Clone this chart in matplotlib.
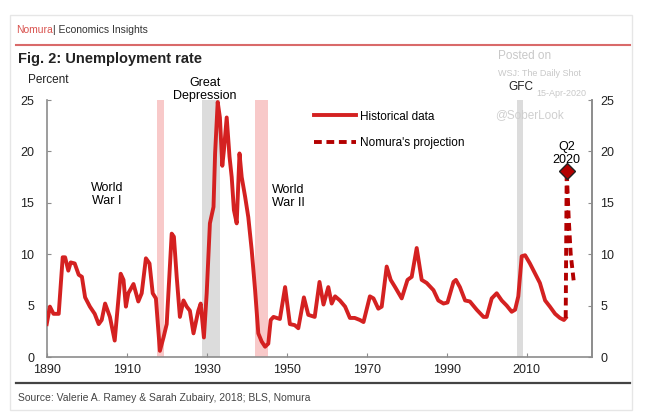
import matplotlib.pyplot as plt
from matplotlib.lines import Line2D
from matplotlib.patches import Rectangle

plt.rcParams['font.family'] = ['Liberation Sans', 'DejaVu Sans']

# Historical unemployment rate (percent)
years = [1890.0, 1890.8, 1891.7, 1893.0, 1894.0, 1894.6, 1895.4, 1896.0, 1897.0, 1898.0,
         1898.8, 1899.6, 1900.8, 1902.0, 1903.0, 1903.75, 1904.6, 1905.8, 1907.0, 1908.5,
         1909.2, 1909.8, 1910.4, 1911.7, 1912.9, 1913.75, 1914.8, 1915.7, 1916.5, 1917.3,
         1918.3, 1919.2, 1920.0, 1921.25, 1921.8, 1922.5, 1923.3, 1924.2, 1925.0, 1925.8,
         1926.7, 1927.9, 1928.5, 1929.3, 1930.0, 1930.8, 1931.7, 1932.1, 1932.75, 1933.3,
         1933.9, 1934.3, 1935.0, 1935.7, 1936.25, 1936.8, 1937.5, 1938.2, 1938.75, 1939.6,
         1940.4, 1941.25, 1942.1, 1942.9, 1943.75, 1944.6, 1945.4, 1946.0, 1946.7, 1948.3,
         1949.6, 1950.8, 1952.0, 1952.9, 1954.3, 1955.4, 1957.0, 1958.2, 1959.2, 1960.4,
         1961.25, 1962.1, 1963.3, 1964.6, 1965.8, 1967.0, 1968.3, 1969.2, 1970.8, 1971.7,
         1972.9, 1973.75, 1975.0, 1976.0, 1977.1, 1978.75, 1980.2, 1981.25, 1982.5, 1983.75,
         1985.0, 1986.7, 1987.9, 1989.2, 1990.2, 1991.7, 1992.3, 1993.3, 1994.6, 1995.8,
         1997.5, 1999.2, 2000.0, 2001.25, 2002.5, 2003.75, 2005.0, 2006.25, 2007.1, 2007.9,
         2008.75, 2009.6, 2010.8, 2012.1, 2013.3, 2014.6, 2015.8, 2017.1, 2018.3, 2019.3,
         2019.75]
rate = [3.2, 4.9, 4.2, 4.2, 9.7, 9.7, 8.4, 9.2, 9.1, 8.0,
        7.8, 5.8, 4.9, 4.2, 3.2, 3.6, 5.2, 3.9, 1.6, 8.1,
        7.5, 4.9, 6.2, 7.1, 5.4, 6.2, 9.6, 9.1, 6.2, 5.7,
        0.6, 1.9, 3.2, 12.0, 11.7, 7.8, 3.9, 5.5, 4.9, 4.5,
        2.3, 4.5, 5.2, 1.9, 6.2, 13.0, 14.6, 19.8, 24.8, 23.3,
        18.6, 20.1, 23.3, 19.5, 17.5, 14.3, 13.0, 19.8, 17.5, 15.6,
        13.6, 10.4, 6.5, 2.3, 1.5, 1.0, 1.3, 3.6, 3.9, 3.7,
        6.8, 3.2, 3.1, 2.8, 5.8, 4.1, 3.9, 7.3, 5.1, 6.8,
        5.2, 5.9, 5.5, 4.9, 3.8, 3.8, 3.6, 3.4, 5.9, 5.7,
        4.7, 4.9, 8.8, 7.5, 6.8, 5.7, 7.5, 7.8, 10.6, 7.5,
        7.2, 6.5, 5.5, 5.2, 5.3, 7.3, 7.5, 6.8, 5.5, 5.4,
        4.6, 3.9, 3.9, 5.7, 6.2, 5.5, 5.0, 4.4, 4.6, 5.9,
        9.8, 9.9, 9.1, 8.1, 7.2, 5.5, 4.9, 4.2, 3.8, 3.6,
        3.8]

# Nomura's projection
proj_years = [2019.75, 2020.0, 2020.5, 2021.0, 2021.75]
proj_rate = [3.8, 18.1, 13.5, 10.0, 7.4]
q2_year, q2_rate = 2020.0, 18.1

# Shaded episodes
wars = [(1917.5, 1919.2), (1942.0, 1945.4)]
recessions = [(1928.9, 1933.2), (2007.5, 2009.1)]

xticks = [1890, 1910, 1930, 1950, 1970, 1990, 2010]
yticks = [0, 5, 10, 15, 20, 25]

red = '#d42121'
dark_red = '#b30000'
pink = '#f8c9c9'
grey_band = '#dcdcdc'
spine_grey = '#8c8c8c'

fig = plt.figure(figsize=(6.5, 4.19), dpi=100)
W, H = 650, 419

def fx(px):
    return px / W

def fy(py):
    return 1 - py / H

# outer frame and header
fig.patches.append(Rectangle((fx(10), fy(410)), fx(622), 395 / H, transform=fig.transFigure,
                             fill=False, edgecolor='#e6e6e6', linewidth=1.0))
fig.text(fx(16), fy(30), 'Nomura', color='#d9534f', fontsize=7.5, va='center')
fig.text(fx(53), fy(30), '| Economics Insights', color='#333333', fontsize=7.5, va='center')
fig.add_artist(Line2D([fx(16), fx(630)], [fy(45), fy(45)], color='#d96a6a', linewidth=1.5,
                      transform=fig.transFigure))
fig.text(fx(18), fy(59), 'Fig. 2: Unemployment rate', fontsize=10.5, fontweight='bold',
         color='#222222', va='center')
fig.text(fx(28), fy(80), 'Percent', fontsize=8.5, color='#222222', va='center')
fig.text(fx(498), fy(56), 'Posted on', fontsize=8.5, color='#c8c8c8', va='center')
fig.text(fx(498), fy(74), 'WSJ: The Daily Shot', fontsize=6.5, color='#c8c8c8', va='center')
fig.text(fx(536), fy(93), '15-Apr-2020', fontsize=6.5, color='#c8c8c8', va='center')
fig.text(fx(508), fy(87), 'GFC', fontsize=8.5, color='#222222', va='center')
fig.text(fx(495), fy(115), '@SoberLook', fontsize=8.5, color='#cfcfcf', va='center')

# footer
fig.add_artist(Line2D([fx(16), fx(630)], [fy(383), fy(383)], color='#444444', linewidth=1.6,
                      transform=fig.transFigure))
fig.text(fx(18), fy(398), 'Source: Valerie A. Ramey & Sarah Zubairy, 2018; BLS, Nomura',
         fontsize=7.5, color='#444444', va='center')

ax = fig.add_axes([fx(46.7), fy(357), fx(591.7 - 46.7), (357 - 100) / H])
for a, b in wars:
    ax.axvspan(a, b, color=pink, linewidth=0, zorder=1)
for a, b in recessions:
    ax.axvspan(a, b, color=grey_band, linewidth=0, zorder=1)

ax.plot(years, rate, color=red, linewidth=2.8, solid_joinstyle='round', zorder=3,
        label='Historical data')
ax.plot(proj_years, proj_rate, color=dark_red, linewidth=2.8, linestyle=(0, (2, 1.2)),
        zorder=3, label="Nomura's projection")
ax.plot([q2_year], [q2_rate], marker='D', markersize=8, color=dark_red,
        markeredgecolor='#222222', markeredgewidth=1, zorder=4)

ax.set_xlim(1890, 2026.25)
ax.set_ylim(0, 25)
ax.set_xticks(xticks)
ax.set_yticks(yticks)
ax.tick_params(axis='both', direction='in', length=3, color=spine_grey, labelsize=9,
               labelcolor='#222222')
ax.tick_params(axis='x', pad=5)
ax.tick_params(axis='y', pad=9)
for side in ['left', 'bottom', 'right']:
    ax.spines[side].set_color(spine_grey)
    ax.spines[side].set_linewidth(1.2)
ax.spines['top'].set_visible(False)

# right-hand axis with the same scale
ax_r = ax.twinx()
ax_r.set_ylim(ax.get_ylim())
ax_r.set_yticks(yticks)
ax_r.tick_params(axis='y', direction='in', length=3, color=spine_grey, labelsize=9,
                 labelcolor='#222222', pad=6)
ax_r.spines['right'].set_color(spine_grey)
ax_r.spines['right'].set_linewidth(1.2)
for side in ['left', 'top', 'bottom']:
    ax_r.spines[side].set_visible(False)

ax.text(1905.0, 15.8, 'World\nWar I', ha='center', va='center', fontsize=9, linespacing=1.1)
ax.text(1950.3, 15.6, 'World\nWar II', ha='center', va='center', fontsize=9, linespacing=1.1)
ax.text(1929.5, 26.0, 'Great\nDepression', ha='center', va='center', fontsize=9,
        linespacing=1.1, clip_on=False)
ax.text(2020.0, 19.8, 'Q2\n2020', ha='center', va='center', fontsize=9, linespacing=1.1)

leg = ax.legend(loc='upper left', bbox_to_anchor=(fx(303), fy(100)),
                bbox_transform=fig.transFigure, frameon=False, fontsize=8.5,
                handlelength=3.6, handletextpad=0.3, labelspacing=1.2)

fig.savefig('out.png', dpi=100)
